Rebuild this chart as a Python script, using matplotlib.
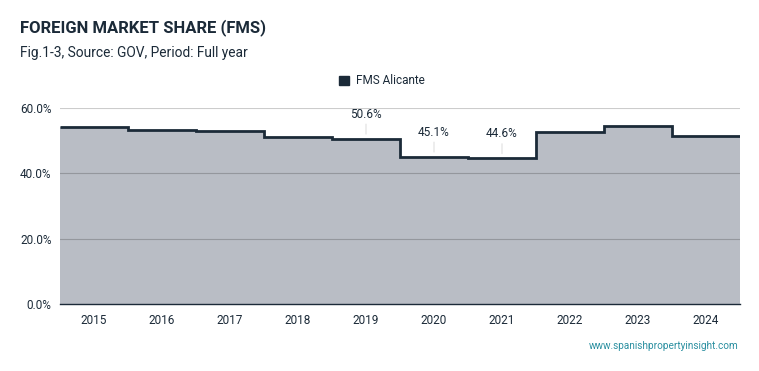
import matplotlib.pyplot as plt
from matplotlib.patches import Patch
import numpy as np

plt.rcParams['font.family'] = ['Roboto', 'DejaVu Sans']

# Data
years = [2015, 2016, 2017, 2018, 2019, 2020, 2021, 2022, 2023, 2024]
fms = [54.1, 53.4, 53.0, 51.1, 50.6, 45.1, 44.6, 52.8, 54.4, 51.5]
labelled_years = [2019, 2020, 2021]

dark = '#1b2a38'
fill = '#b9bdc5'

fig = plt.figure(figsize=(7.59, 3.71), dpi=100)
ax = fig.add_axes([60 / 759, 1 - 304 / 371, 680 / 759, 196 / 371])

edges = np.append(np.array(years) - 0.5, years[-1] + 0.5)
ax.stairs(fms, edges, baseline=0, fill=True, color=fill, zorder=1)
ax.stairs(fms, edges, baseline=None, color=dark, lw=2, zorder=3)

ax.set_xlim(edges[0], edges[-1])
ax.set_ylim(0, 60)
ax.set_yticks([0, 20, 40, 60])
ax.set_yticklabels([f'{t:.1f}%' for t in [0, 20, 40, 60]])
ax.set_xticks(years)
ax.set_xticklabels([str(y) for y in years])
ax.tick_params(length=0, labelsize=8.5, colors=dark, pad=6)
ax.tick_params(axis='x', pad=7)

for t in [20, 40, 60]:
    ax.axhline(t, color='black', alpha=0.2, lw=0.8, zorder=2)

for s in ['top', 'right', 'left']:
    ax.spines[s].set_visible(False)
ax.spines['bottom'].set_color(dark)
ax.spines['bottom'].set_linewidth(1)

# data labels with a faint connector
for yr, v in zip(years, fms):
    if yr in labelled_years:
        ax.annotate(f'{v:.1f}%', xy=(yr, v), xytext=(0, 13), textcoords='offset points',
                    ha='center', va='bottom', fontsize=8.5, color=dark, zorder=4)
        ax.annotate('', xy=(yr, v + 0.6), xytext=(0, 11), textcoords='offset points',
                    arrowprops=dict(arrowstyle='-', color='#e6e6e6', lw=1), zorder=2)

fig.text(20 / 759, 1 - 28 / 371, 'FOREIGN MARKET SHARE (FMS)', fontsize=12,
         fontweight='bold', color=dark, va='center')
fig.text(20 / 759, 1 - 53 / 371, 'Fig.1-3, Source: GOV, Period: Full year', fontsize=9.9,
         color=dark, va='center')

fig.legend(handles=[Patch(color=dark)], labels=['FMS Alicante'], loc='center',
           bbox_to_anchor=(382 / 759, 1 - 81 / 371), frameon=False, fontsize=8.5,
           handlelength=0.9, handleheight=0.9, handletextpad=0.6, labelcolor=dark)

fig.text(739 / 759, 1 - 346 / 371, 'www.spanishpropertyinsight.com', fontsize=7.2,
         color='#2a8fa0', ha='right', va='center')

fig.savefig('out.png', dpi=100)
